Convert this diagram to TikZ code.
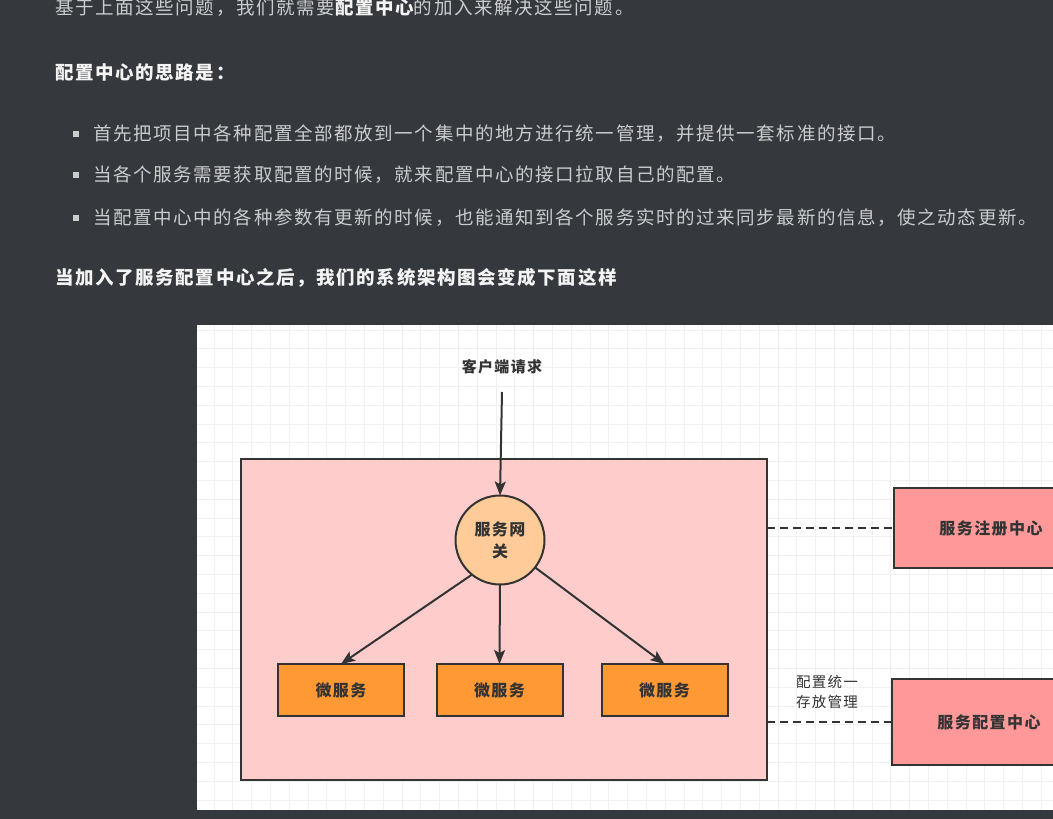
\documentclass[tikz,border=0pt]{standalone}
\usepackage{fontspec}
\usetikzlibrary{arrows.meta}
\newfontfamily\cjk[LetterSpace=8.7]{Noto Sans CJK SC}
\newfontfamily\cjkd[LetterSpace=9]{Noto Sans CJK SC}
\definecolor{bg}{HTML}{35383D}
\definecolor{txt}{HTML}{CBCCCD}
\definecolor{hi}{HTML}{F4F4F4}
\definecolor{gridc}{HTML}{F0F0F0}
\definecolor{ink}{HTML}{333333}
\definecolor{pinkc}{HTML}{FFCCCC}
\definecolor{peach}{HTML}{FFCC99}
\definecolor{orangec}{HTML}{FF9933}
\definecolor{redc}{HTML}{FF9999}
\tikzset{
  toptext/.style={anchor=west, inner sep=0pt, text=txt, font=\cjk\fontsize{18.5}{20}\selectfont},
  boldtext/.style={toptext, text=hi, font=\cjk\bfseries\fontsize{18.5}{20}\selectfont},
  bulletbox/.style={fill=txt, minimum size=6pt, inner sep=0pt},
  lbl/.style={text=ink, font=\cjkd\bfseries\fontsize{15}{21}\selectfont, align=center},
  boxlbl/.style={text=ink, font=\cjkd\bfseries\fontsize{16}{22}\selectfont, align=center},
  note/.style={text=ink, font=\cjkd\fontsize{14.5}{20}\selectfont, align=center},
  contbox/.style={draw=ink, line width=2pt, fill=pinkc, minimum width=526pt, minimum height=321pt, inner sep=0pt, outer sep=0pt},
  gwbox/.style={circle, draw=ink, line width=2pt, fill=peach, minimum size=89pt, inner sep=0pt, outer sep=0pt, boxlbl},
  msbox/.style={draw=ink, line width=2pt, fill=orangec, minimum width=126pt, minimum height=52pt, inner sep=0pt, outer sep=0pt, boxlbl},
  centerbox/.style={draw=ink, line width=2pt, fill=redc, minimum width=194pt, inner sep=0pt, outer sep=0pt, boxlbl},
  arr/.style={draw=ink, line width=2pt, -{Stealth[length=14pt,width=11pt,inset=3pt]}},
  dashline/.style={draw=ink, line width=2pt, dash pattern=on 8pt off 5pt},
}
\begin{document}
\begin{tikzpicture}[x=1pt,y=-1pt]
\useasboundingbox (0,0) rectangle (1053,819);
\fill[bg] (0,0) rectangle (1053,819);
% top text
\node[toptext] (t1) at (55,8) {基于上面这些问题，我们就需要{\bfseries\color{hi}配置中心}的加入来解决这些问题。};
\node[boldtext] (t2) at (55,72.5) {配置中心的思路是：};
\node[bulletbox] (b1) at (75.5,134) {};
\node[bulletbox] (b2) at (75.5,175) {};
\node[bulletbox] (b3) at (75.5,218) {};
\node[toptext] (l1) at (93,133.5) {首先把项目中各种配置全部都放到一个集中的地方进行统一管理，并提供一套标准的接口。};
\node[toptext] (l2) at (93,175) {当各个服务需要获取配置的时候，就来配置中心的接口拉取自己的配置。};
\node[toptext] (l3) at (93,218) {当配置中心中的各种参数有更新的时候，也能通知到各个服务实时的过来同步最新的信息，使之动态更新。};
\node[boldtext] (t3) at (55,277.5) {当加入了服务配置中心之后，我们的系统架构图会变成下面这样};
% diagram
\begin{scope}
\clip (197,325) rectangle (1053,810);
\fill[white] (197,325) rectangle (1053,810);
\foreach \i in {0,...,44} {\draw[gridc, line width=0.8pt] ({214+18.8*\i},325) -- ({214+18.8*\i},810);}
\foreach \j in {0,...,25} {\draw[gridc, line width=0.8pt] (197,{330+18.8*\j}) -- (1053,{330+18.8*\j});}
\node[contbox] (cont) at (504,619.5) {};
\node[lbl] (client) at (502,367) {客户端请求};
\coordinate (req) at (502,392);
\node[gwbox] (gw) at (500,540) {服务网\\关};
\node[msbox] (ms1) at (341,690) {微服务};
\node[msbox] (ms2) at (499.5,690) {微服务};
\node[msbox] (ms3) at (664.5,690) {微服务};
\node[centerbox, minimum height=80pt] (reg) at (991,528) {服务注册中心};
\node[centerbox, minimum height=86pt] (cfg) at (989,722) {服务配置中心};
\node[note] (nt) at (827,692) {配置统一\\存放管理};
\draw[arr] (req) -- (gw.north);
\draw[arr] (gw.231) -- (ms1.north);
\draw[arr] (gw.south) -- (ms2.north);
\draw[arr] (gw.-38) -- (ms3.north);
\draw[dashline] (cont.east |- reg.west) -- (reg.west);
\draw[dashline] (cont.east |- cfg.west) -- (cfg.west);
\end{scope}
\end{tikzpicture}
\end{document}
